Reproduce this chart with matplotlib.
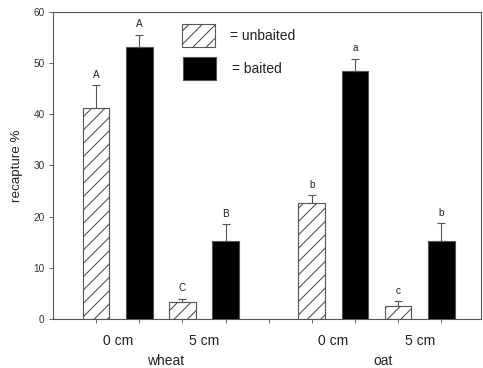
import matplotlib
matplotlib.use('Agg')
import matplotlib.pyplot as plt
from matplotlib.patches import Rectangle

# recapture %
groups = ['wheat', 'oat']
distances = ['0 cm', '5 cm']
unbaited = [41.2, 3.25, 22.6, 2.6]
unbaited_err = [4.6, 0.75, 1.7, 0.85]
baited = [53.2, 15.3, 48.5, 15.3]
baited_err = [2.4, 3.3, 2.4, 3.5]
unbaited_letters = ['A', 'C', 'b', 'c']
baited_letters = ['A', 'B', 'a', 'b']

plt.rcParams['font.family'] = 'Liberation Sans'
plt.rcParams['hatch.linewidth'] = 1.0
edge = '#555555'
txt = '#222222'

fig = plt.figure(figsize=(483 / 80, 368 / 80), dpi=80)
ax = fig.add_axes([0.1097, 0.1332, 0.886, 0.8342])

# slot positions: each distance holds an unbaited + baited pair, one empty slot between crops
x_unb = [0, 2, 5, 7]
x_bai = [1, 3, 6, 8]
w = 0.62

ax.bar(x_unb, unbaited, w, color='white', edgecolor=edge, hatch='//', linewidth=1.0)
ax.bar(x_bai, baited, w, color='black', edgecolor=edge, linewidth=1.0)
ax.errorbar(x_unb, unbaited, yerr=[[0] * 4, unbaited_err], fmt='none',
            ecolor=edge, elinewidth=1.0, capsize=4, capthick=1.0)
ax.errorbar(x_bai, baited, yerr=[[0] * 4, baited_err], fmt='none',
            ecolor=edge, elinewidth=1.0, capsize=4, capthick=1.0)

for xs, vals, errs, labs in [(x_unb, unbaited, unbaited_err, unbaited_letters),
                             (x_bai, baited, baited_err, baited_letters)]:
    for xi, v, e, lab in zip(xs, vals, errs, labs):
        ax.text(xi, v + e + 1.0, lab, ha='center', va='bottom', fontsize=9, color=txt)

ax.set_xlim(-1.0, 8.92)
ax.set_ylim(0, 60)
ax.set_yticks(range(0, 61, 10))
ax.set_xticks(range(0, 9))
ax.set_xticklabels([])
ax.tick_params(axis='both', direction='out', length=4, color=edge, labelsize=9, labelcolor='#333333')
for s in ax.spines.values():
    s.set_color(edge)
    s.set_linewidth(1.0)

# category labels under the axis
for xi, lab in zip([0.5, 2.5, 5.5, 7.5], distances * 2):
    ax.text(xi, -0.05, lab, transform=ax.get_xaxis_transform(), ha='center', va='top',
            fontsize=12.5, color=txt)
for xi, g in zip([1.6, 6.65], groups):
    ax.text(xi, -0.115, g, transform=ax.get_xaxis_transform(), ha='center', va='top',
            fontsize=12.5, color=txt)

ax.set_ylabel('recapture %', fontsize=12, color=txt, labelpad=9)

# key drawn as boxes inside the plot, like the original
ax.add_patch(Rectangle((0.301, 0.886), 0.077, 0.075, transform=ax.transAxes,
                       facecolor='white', edgecolor=edge, hatch='//', linewidth=1.0))
ax.add_patch(Rectangle((0.304, 0.779), 0.077, 0.075, transform=ax.transAxes,
                       facecolor='black', edgecolor=edge, linewidth=1.0))
ax.text(0.4136, 0.922, '= unbaited', transform=ax.transAxes, ha='left', va='center',
        fontsize=12.5, color=txt)
ax.text(0.418, 0.815, '= baited', transform=ax.transAxes, ha='left', va='center',
        fontsize=12.5, color=txt)

fig.savefig('out.png', dpi=80)
